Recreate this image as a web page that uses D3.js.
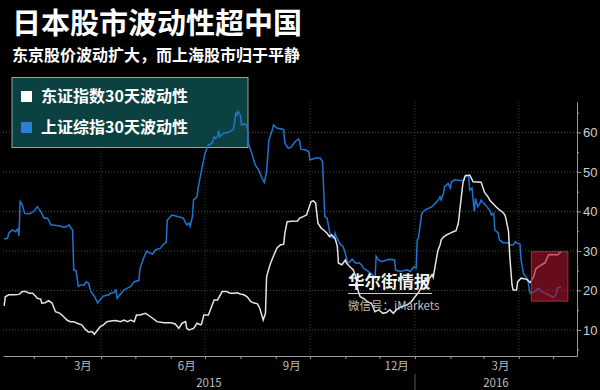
<!DOCTYPE html>
<html>
<head>
<meta charset="utf-8">
<script src="https://cdnjs.cloudflare.com/ajax/libs/d3/7.8.5/d3.min.js"></script>
<style>
  body { margin: 0; background: #000; }
  #chart { width: 600px; height: 390px; }
  text { font-family: "Noto Sans CJK SC", "Noto Sans", sans-serif; }
</style>
</head>
<body>
<div id="chart"></div>
<script>
// Shanghai Composite 30-day volatility [date, value]
var shanghaiVol = [
  ["2015-01-06",33.0],["2015-01-09",33.2],["2015-01-10",34.5],["2015-01-13",35.3],["2015-01-16",34.9],["2015-01-18",35.5],
  ["2015-01-19",33.8],["2015-01-20",42.5],["2015-01-22",41.6],["2015-01-24",39.5],["2015-01-28",39.4],["2015-02-01",40.0],
  ["2015-02-04",41.2],["2015-02-07",40.0],["2015-02-10",38.3],["2015-02-13",38.3],["2015-02-16",36.6],["2015-02-19",36.5],
  ["2015-02-24",36.3],["2015-02-27",36.0],["2015-03-02",36.2],["2015-03-04",36.6],["2015-03-05",36.0],["2015-03-07",35.3],
  ["2015-03-08",25.2],["2015-03-10",25.0],["2015-03-12",21.0],["2015-03-14",21.4],["2015-03-17",21.4],["2015-03-19",22.2],
  ["2015-03-21",21.8],["2015-03-23",19.7],["2015-03-26",18.6],["2015-03-29",16.8],["2015-03-31",17.6],["2015-04-03",18.6],
  ["2015-04-08",18.9],["2015-04-09",19.3],["2015-04-12",19.4],["2015-04-14",20.1],["2015-04-15",18.0],["2015-04-18",19.1],
  ["2015-04-21",20.1],["2015-04-24",20.6],["2015-04-27",21.0],["2015-04-30",22.2],["2015-05-04",22.5],["2015-05-05",25.5],
  ["2015-05-08",28.0],["2015-05-11",30.0],["2015-05-14",29.4],["2015-05-16",29.2],["2015-05-19",30.3],["2015-05-23",30.7],
  ["2015-05-26",31.8],["2015-05-28",32.1],["2015-05-29",37.8],["2015-06-02",39.1],["2015-06-07",38.7],["2015-06-12",38.3],
  ["2015-06-15",36.6],["2015-06-17",37.0],["2015-06-18",36.2],["2015-06-20",38.7],["2015-06-21",42.9],["2015-06-24",43.7],
  ["2015-06-25",45.9],["2015-06-28",50.5],["2015-07-01",54.7],["2015-07-04",56.8],["2015-07-07",57.2],["2015-07-09",58.9],
  ["2015-07-10",58.5],["2015-07-12",58.9],["2015-07-13",60.5],["2015-07-14",58.9],["2015-07-17",59.8],["2015-07-20",59.9],
  ["2015-07-23",60.2],["2015-07-26",60.8],["2015-07-28",64.9],["2015-07-29",64.4],["2015-07-30",65.3],["2015-08-01",64.4],
  ["2015-08-02",61.9],["2015-08-05",62.2],["2015-08-07",61.5],["2015-08-08",57.3],["2015-08-11",54.7],["2015-08-14",51.8],
  ["2015-08-17",50.5],["2015-08-20",48.4],["2015-08-22",47.3],["2015-08-24",50.1],["2015-08-26",58.1],["2015-08-29",60.6],
  ["2015-08-30",61.9],["2015-09-02",61.1],["2015-09-07",60.8],["2015-09-08",60.6],["2015-09-09",57.3],["2015-09-12",56.0],
  ["2015-09-15",56.4],["2015-09-18",57.7],["2015-09-21",58.3],["2015-09-22",57.7],["2015-09-23",55.7],["2015-09-27",55.6],
  ["2015-09-30",55.1],["2015-10-01",53.0],["2015-10-06",53.5],["2015-10-10",53.5],["2015-10-12",52.6],["2015-10-14",38.7],
  ["2015-10-16",38.3],["2015-10-19",33.6],["2015-10-22",33.2],["2015-10-23",34.5],["2015-10-24",33.6],["2015-10-27",31.9],
  ["2015-10-30",31.1],["2015-11-01",29.4],["2015-11-03",26.9],["2015-11-05",27.3],["2015-11-07",27.9],["2015-11-10",26.9],
  ["2015-11-13",27.0],["2015-11-15",26.5],["2015-11-17",25.6],["2015-11-21",24.8],["2015-11-25",23.9],["2015-11-27",23.1],
  ["2015-11-28",28.6],["2015-11-30",27.7],["2015-12-03",27.3],["2015-12-07",27.7],["2015-12-10",27.9],["2015-12-14",27.7],
  ["2015-12-15",25.2],["2015-12-19",24.8],["2015-12-25",25.2],["2015-12-28",24.8],["2015-12-31",26.0],["2016-01-02",25.6],
  ["2016-01-03",32.8],["2016-01-04",33.2],["2016-01-07",39.5],["2016-01-10",40.4],["2016-01-13",40.8],["2016-01-16",41.2],
  ["2016-01-19",42.1],["2016-01-22",43.1],["2016-01-23",43.7],["2016-01-24",42.9],["2016-01-26",44.6],["2016-01-27",46.3],
  ["2016-01-29",46.7],["2016-01-30",47.1],["2016-02-01",45.9],["2016-02-02",47.5],["2016-02-05",48.0],["2016-02-09",47.8],
  ["2016-02-12",47.8],["2016-02-14",48.8],["2016-02-15",49.2],["2016-02-17",48.8],["2016-02-18",45.4],["2016-02-20",45.9],
  ["2016-02-21",42.9],["2016-02-22",40.0],["2016-02-23",43.3],["2016-02-25",41.2],["2016-02-27",42.1],["2016-02-28",42.9],
  ["2016-03-01",42.1],["2016-03-04",41.2],["2016-03-07",40.0],["2016-03-08",39.1],["2016-03-10",39.5],["2016-03-11",35.3],
  ["2016-03-14",34.5],["2016-03-15",32.8],["2016-03-18",32.1],["2016-03-23",32.1],["2016-03-24",31.5],["2016-03-27",31.5],
  ["2016-03-29",32.3],["2016-03-31",31.9],["2016-04-02",31.8],["2016-04-03",27.7],["2016-04-05",24.4],["2016-04-06",23.9],
  ["2016-04-08",23.1],["2016-04-09",22.7],["2016-04-10",20.6],["2016-04-11",19.3],["2016-04-15",19.7],["2016-04-18",20.6],
  ["2016-04-21",19.7],["2016-04-24",19.3],["2016-04-27",18.9],["2016-04-30",18.4],["2016-05-02",18.3],["2016-05-04",19.3],
  ["2016-05-05",20.7],["2016-05-08",20.8]
];

// Tokyo (TOPIX) 30-day volatility [date, value]
var tokyoVol = [
  ["2015-01-06",16.1],["2015-01-07",18.4],["2015-01-10",18.9],["2015-01-15",18.9],["2015-01-19",19.0],["2015-01-22",19.7],
  ["2015-01-25",19.7],["2015-01-28",19.3],["2015-01-31",19.3],["2015-02-03",18.4],["2015-02-04",18.0],["2015-02-07",17.8],
  ["2015-02-08",16.8],["2015-02-11",16.9],["2015-02-14",17.4],["2015-02-17",16.8],["2015-02-20",14.6],["2015-02-24",14.2],
  ["2015-02-27",13.4],["2015-03-02",12.5],["2015-03-05",12.1],["2015-03-08",12.1],["2015-03-11",11.7],["2015-03-15",11.3],
  ["2015-03-18",10.2],["2015-03-21",9.4],["2015-03-24",9.6],["2015-03-26",8.9],["2015-03-29",10.0],["2015-03-31",10.8],
  ["2015-04-03",11.3],["2015-04-06",12.1],["2015-04-11",12.3],["2015-04-14",12.4],["2015-04-18",12.1],["2015-04-21",12.5],
  ["2015-04-24",12.1],["2015-04-27",12.5],["2015-04-30",12.1],["2015-05-02",13.8],["2015-05-05",13.8],["2015-05-10",14.2],
  ["2015-05-14",13.4],["2015-05-20",12.1],["2015-05-26",11.8],["2015-06-01",11.8],["2015-06-05",11.5],["2015-06-08",10.4],
  ["2015-06-11",11.7],["2015-06-14",12.1],["2015-06-15",10.4],["2015-06-17",10.0],["2015-06-21",10.4],["2015-06-24",11.7],
  ["2015-06-27",11.3],["2015-06-28",11.5],["2015-06-30",13.8],["2015-07-04",13.8],["2015-07-09",17.6],["2015-07-12",17.6],
  ["2015-07-16",19.7],["2015-07-20",19.7],["2015-07-23",19.3],["2015-07-26",19.3],["2015-07-29",19.4],["2015-08-01",19.1],
  ["2015-08-04",18.9],["2015-08-07",18.4],["2015-08-10",17.2],["2015-08-13",16.8],["2015-08-16",16.6],["2015-08-18",15.5],
  ["2015-08-21",12.5],["2015-08-23",14.2],["2015-08-24",23.5],["2015-08-27",26.5],["2015-08-30",28.7],["2015-09-02",30.7],
  ["2015-09-05",31.5],["2015-09-08",31.7],["2015-09-09",34.5],["2015-09-11",37.4],["2015-09-15",37.5],["2015-09-20",37.6],
  ["2015-09-22",38.3],["2015-09-25",38.7],["2015-09-28",39.1],["2015-09-30",40.8],["2015-10-02",42.5],["2015-10-04",42.7],
  ["2015-10-06",42.1],["2015-10-07",39.5],["2015-10-08",37.0],["2015-10-11",35.7],["2015-10-13",35.3],["2015-10-16",34.5],
  ["2015-10-18",33.6],["2015-10-20",34.1],["2015-10-23",33.2],["2015-10-25",31.1],["2015-10-26",26.9],["2015-10-29",26.5],
  ["2015-11-01",27.7],["2015-11-02",26.9],["2015-11-05",26.0],["2015-11-08",25.2],["2015-11-10",23.5],["2015-11-11",22.2],
  ["2015-11-12",20.1],["2015-11-14",18.4],["2015-11-17",18.0],["2015-11-20",17.2],["2015-11-24",16.7],["2015-11-27",14.6],
  ["2015-11-30",15.1],["2015-12-04",14.2],["2015-12-07",14.4],["2015-12-10",15.1],["2015-12-13",14.2],["2015-12-16",15.2],
  ["2015-12-20",15.9],["2015-12-25",16.3],["2015-12-29",17.2],["2016-01-01",18.4],["2016-01-04",19.4],["2016-01-07",21.0],
  ["2016-01-10",22.7],["2016-01-13",22.7],["2016-01-16",24.0],["2016-01-17",23.3],["2016-01-18",25.0],["2016-01-21",30.0],
  ["2016-01-23",31.5],["2016-01-24",32.8],["2016-01-26",33.5],["2016-01-29",34.1],["2016-02-01",34.5],["2016-02-04",34.9],
  ["2016-02-06",35.1],["2016-02-08",37.0],["2016-02-09",39.5],["2016-02-10",42.1],["2016-02-12",47.1],["2016-02-14",49.0],
  ["2016-02-18",49.2],["2016-02-21",47.5],["2016-02-28",47.4],["2016-03-02",44.8],["2016-03-05",43.7],["2016-03-07",42.7],
  ["2016-03-10",41.8],["2016-03-12",41.2],["2016-03-15",40.4],["2016-03-18",39.8],["2016-03-20",39.0],["2016-03-21",37.8],
  ["2016-03-23",34.9],["2016-03-24",29.0],["2016-03-26",21.5],["2016-03-27",20.1],["2016-03-30",20.1],["2016-03-31",22.2],
  ["2016-04-03",23.1],["2016-04-08",22.8],["2016-04-11",22.0],["2016-04-14",23.5],["2016-04-16",25.5],["2016-04-21",26.5],
  ["2016-04-24",27.0],["2016-04-27",29.0],["2016-04-30",29.1],["2016-05-02",29.0],["2016-05-05",29.0],["2016-05-08",29.8]
];

var yTicks = [10, 20, 30, 40, 50, 60];
var yMinorTicks = [5, 15, 25, 35, 45, 55, 65];
var monthLabels = [["2015-03-16","3月"],["2015-06-15","6月"],["2015-09-15","9月"],["2015-12-16","12月"],["2016-03-16","3月"]];
var quarterLines = ["2015-04-01","2015-07-01","2015-10-01","2016-01-01","2016-04-01"];
var yearLabels = [["2015-01-05","2016-01-01","2015"],["2016-01-01","2016-05-22","2016"]];
var highlight = {from: "2016-04-12", to: "2016-05-14", low: 17.3, high: 29.8};

var title = "日本股市波动性超中国";
var subtitle = "东京股价波动扩大，而上海股市归于平静";
var legendItems = [["东证指数30天波动性", "#ffffff"], ["上证综指30天波动性", "#2a7fd8"]];

drawChart('#chart', 600, 390);

function drawChart(pageid, w, h) {

  // plot area edges
  var left = 3, right = 577, top = 102, bottom = 356;

  var parseTime = d3.utcParse('%Y-%m-%d');

  var x = d3.scaleUtc()
      .domain([parseTime('2015-01-05'), parseTime('2016-05-22')])
      .range([left, right]);

  var y = d3.scaleLinear().domain([3.4, 67.7]).range([bottom, top]);

  var svg = d3.select(pageid)
      .append('svg')
      .attr('width', w)
      .attr('height', h)
      .style('background', '#000');

  // horizontal grid
  svg.append('g')
    .selectAll('line')
    .data(yTicks)
    .enter().append('line')
      .attr('x1', left)
      .attr('x2', right)
      .attr('y1', function(d) { return y(d); })
      .attr('y2', function(d) { return y(d); })
      .attr('stroke', '#4a4a4a')
      .attr('stroke-dasharray', '1,2');

  // vertical grid at quarter boundaries
  svg.append('g')
    .selectAll('line')
    .data(quarterLines)
    .enter().append('line')
      .attr('x1', function(d) { return x(parseTime(d)); })
      .attr('x2', function(d) { return x(parseTime(d)); })
      .attr('y1', top)
      .attr('y2', bottom)
      .attr('stroke', '#3a3a3a')
      .attr('stroke-dasharray', '1,2');

  // legend box (sits under the lines)
  var legend = svg.append('g');
  legend.append('rect')
    .attr('x', 12)
    .attr('y', 77.5)
    .attr('width', 236)
    .attr('height', 70)
    .attr('fill', '#0b4141')
    .attr('stroke', '#a0a0a0')
    .attr('stroke-width', 1);

  legend.selectAll('rect.key')
    .data(legendItems)
    .enter().append('rect')
      .attr('class', 'key')
      .attr('x', 21)
      .attr('y', function(d, i) { return 91 + i * 31; })
      .attr('width', 11)
      .attr('height', 11)
      .attr('fill', function(d) { return d[1]; });

  legend.selectAll('text')
    .data(legendItems)
    .enter().append('text')
      .attr('x', 41)
      .attr('y', function(d, i) { return 102 + i * 31; })
      .attr('fill', '#ffffff')
      .style('font-size', '16px')
      .style('font-weight', 'bold')
      .text(function(d) { return d[0]; });

  // x axis
  var xAxis = svg.append('g')
      .attr('transform', 'translate(0,' + bottom + ')')
      .call(d3.axisBottom(x)
        .ticks(d3.utcMonth.every(1))
        .tickSize(3)
        .tickSizeOuter(0)
        .tickFormat(''));
  xAxis.selectAll('path, line').attr('stroke', '#9a9a9a');

  // month labels, centred in their month
  svg.append('g')
    .selectAll('text')
    .data(monthLabels)
    .enter().append('text')
      .attr('x', function(d) { return x(parseTime(d[0])); })
      .attr('y', bottom + 14)
      .attr('text-anchor', 'middle')
      .attr('fill', '#bdbdbd')
      .style('font-size', '11.5px')
      .text(function(d) { return d[1]; });

  // year labels + separator
  svg.append('g')
    .selectAll('text')
    .data(yearLabels)
    .enter().append('text')
      .attr('x', function(d) { return (x(parseTime(d[0])) + x(parseTime(d[1]))) / 2; })
      .attr('y', bottom + 31)
      .attr('text-anchor', 'middle')
      .attr('fill', '#bdbdbd')
      .style('font-size', '11.5px')
      .text(function(d) { return d[2]; });

  svg.append('line')
    .attr('x1', x(parseTime('2016-01-01')))
    .attr('x2', x(parseTime('2016-01-01')))
    .attr('y1', bottom + 18)
    .attr('y2', h)
    .attr('stroke', '#5a5a5a');

  // y axis on the right
  var yAxis = svg.append('g')
      .attr('transform', 'translate(' + right + ',0)')
      .call(d3.axisRight(y)
        .tickValues(yTicks)
        .tickSize(4)
        .tickSizeOuter(0)
        .tickPadding(2));
  yAxis.selectAll('path, line').attr('stroke', '#9a9a9a');
  yAxis.selectAll('text')
      .attr('fill', '#cfcfcf')
      .style('font-size', '13px')
      .style('font-family', '"Liberation Sans Narrow", "Liberation Sans", sans-serif');

  svg.append('g')
    .attr('transform', 'translate(' + right + ',0)')
    .call(d3.axisRight(y).tickValues(yMinorTicks).tickSize(2).tickSizeOuter(0).tickFormat(''))
    .selectAll('path, line').attr('stroke', '#9a9a9a');

  // lines
  var line = d3.line()
      .x(function(d) { return x(parseTime(d[0])); })
      .y(function(d) { return y(d[1]); });

  svg.append('path')
    .datum(shanghaiVol)
    .attr('fill', 'none')
    .attr('stroke', '#1f74d0')
    .attr('stroke-width', 1.5)
    .attr('d', line);

  svg.append('path')
    .datum(tokyoVol)
    .attr('fill', 'none')
    .attr('stroke', '#e4e4e4')
    .attr('stroke-width', 1.5)
    .attr('d', line);

  // red highlight over the latest month
  svg.append('rect')
    .attr('x', x(parseTime(highlight.from)))
    .attr('y', y(highlight.high))
    .attr('width', x(parseTime(highlight.to)) - x(parseTime(highlight.from)))
    .attr('height', y(highlight.low) - y(highlight.high))
    .attr('fill', 'rgb(170,20,45)')
    .attr('fill-opacity', 0.6)
    .attr('stroke', '#b02a40')
    .attr('stroke-width', 1);

  // watermark
  svg.append('text')
    .attr('x', 348)
    .attr('y', 288)
    .attr('fill', '#f2f2f2')
    .style('font-size', '16.5px')
    .style('font-weight', 'bold')
    .text('华尔街情报');
  svg.append('line')
    .attr('x1', 348).attr('x2', 432)
    .attr('y1', 293.5).attr('y2', 293.5)
    .attr('stroke', '#cfcfcf');
  svg.append('text')
    .attr('x', 348)
    .attr('y', 310)
    .attr('fill', '#bdbdbd')
    .style('font-size', '11.5px')
    .text('微信号：iMarkets');

  // titles
  svg.append('text')
    .attr('x', 12)
    .attr('y', 34)
    .attr('fill', '#ffffff')
    .style('font-size', '29px')
    .style('font-weight', 'bold')
    .text(title);

  svg.append('text')
    .attr('x', 12)
    .attr('y', 61)
    .attr('fill', '#ffffff')
    .style('font-size', '16px')
    .style('font-weight', 'bold')
    .text(subtitle);

  return this;
}
</script>
</body>
</html>
